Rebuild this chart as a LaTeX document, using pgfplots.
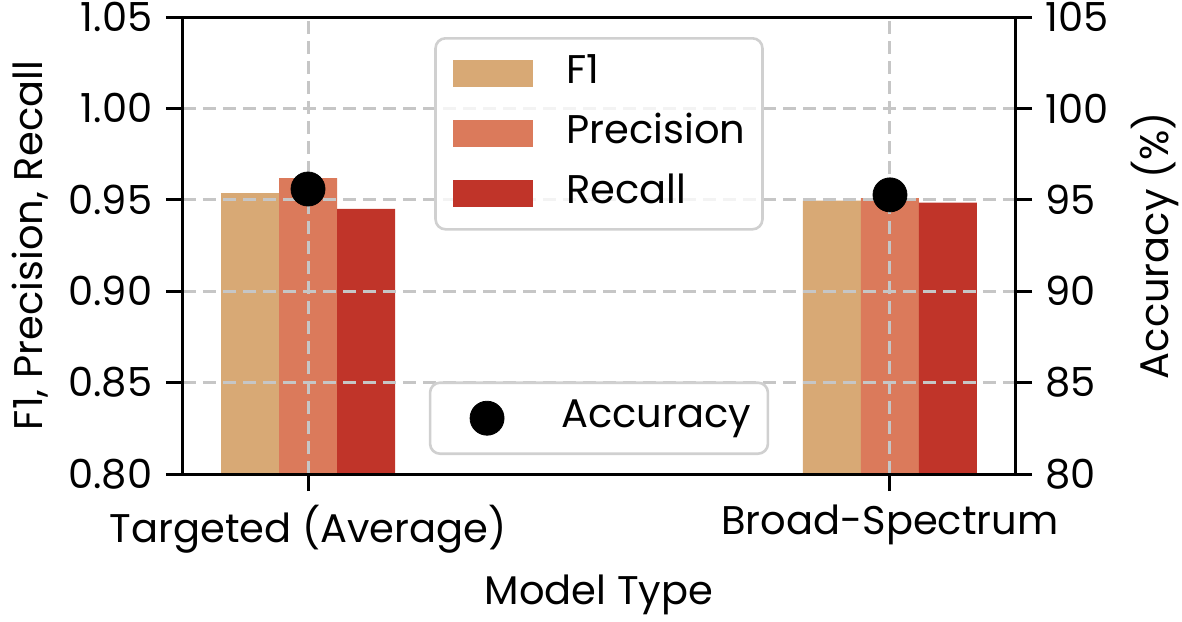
\documentclass[border=0pt]{standalone}
\usepackage{fontspec}
\setmainfont{Poppins}
\usepackage{pgfplots}
\pgfplotsset{compat=1.18}
\definecolor{f1c}{RGB}{216,169,117}
\definecolor{prc}{RGB}{219,122,91}
\definecolor{rec}{RGB}{192,52,41}
\definecolor{gridc}{RGB}{198,198,198}
\definecolor{legc}{RGB}{208,208,208}
\begin{document}
\fontsize{20}{24}\selectfont
\begin{tikzpicture}
\pgfplotsset{
  common/.style={
    scale only axis, width=416pt, height=228.5pt,
    xmin=-0.2148, xmax=1.2148,
    axis line style={line width=1.5pt},
    tick align=outside, major tick length=8.5pt,
    tick style={line width=1.5pt, black},
    /pgf/number format/assume math mode=true,
    legend cell align=left,
  },
  legsty/.style={
    draw=legc, line width=1.3pt, rounded corners=5pt, fill=white, fill opacity=0.8, text opacity=1, draw opacity=1,
    inner xsep=8.5pt, inner ysep=8.5pt, row sep=11.5pt,
    nodes={inner sep=0pt, text height=14pt, text depth=4.5pt},
    /tikz/every odd column/.append style={column sep=17pt},
  },
}
\begin{axis}[common,
  ybar=0pt, bar width=29pt,
  ymin=0.80, ymax=1.05,
  ytick={0.80,0.85,0.90,0.95,1.00,1.05},
  yticklabel style={/pgf/number format/.cd, fixed, fixed zerofill, precision=2},
  xtick={0,1}, xticklabels={Targeted (Average), Broad-Spectrum},
  tick pos=left,
  xmajorgrids, ymajorgrids,
  major grid style={line width=1.5pt, color=gridc, dash pattern=on 6.5pt off 3.5pt},
  axis on top,
  xlabel={Model Type}, ylabel={F1, Precision, Recall},
  every axis y label/.style={at={([xshift=-76.5pt]rel axis cs:0,0.5)}, rotate=90, anchor=center},
  every axis x label/.style={at={([yshift=-60.5pt]rel axis cs:0.5,0)}, anchor=center},
  legend image code/.code={\fill[#1, draw=none, rounded corners=0pt, fill opacity=1] (0pt,-6.75pt) rectangle (40pt,6.75pt);},
  legend style={legsty, at={(0.5,1)}, anchor=north, yshift=-10pt},
]
\addplot[fill=f1c, draw=none] coordinates {(0,0.9537) (1,0.9495)};
\addplot[fill=prc, draw=none] coordinates {(0,0.9619) (1,0.9509)};
\addplot[fill=rec, draw=none] coordinates {(0,0.9451) (1,0.9485)};
\legend{F1, Precision, Recall}
\end{axis}
\begin{axis}[common,
  axis x line=none, axis y line*=right,
  ymin=80, ymax=105,
  ytick={80,85,90,95,100,105},
  ytick pos=right,
  ylabel={Accuracy (\%)},
  every axis y label/.style={at={([xshift=70pt]rel axis cs:1,0.5)}, rotate=90, anchor=center},
  legend image code/.code={\path[draw=none, fill=none] (0pt,-1pt) rectangle (40pt,1pt); \draw[#1, rounded corners=0pt, fill opacity=1, draw opacity=1, line width=0.4pt] plot coordinates {(20pt,0pt)};},
  legend style={legsty, at={(0.5,0)}, anchor=south, yshift=9.5pt},
]
\addplot[only marks, mark=*, mark size=8.5pt, black] coordinates {(0,95.59) (1,95.27)};
\legend{Accuracy}
\end{axis}
\pgfresetboundingbox
\path (-91.5pt,-73.5pt) rectangle (499.5pt,237pt);
\end{tikzpicture}
\end{document}
